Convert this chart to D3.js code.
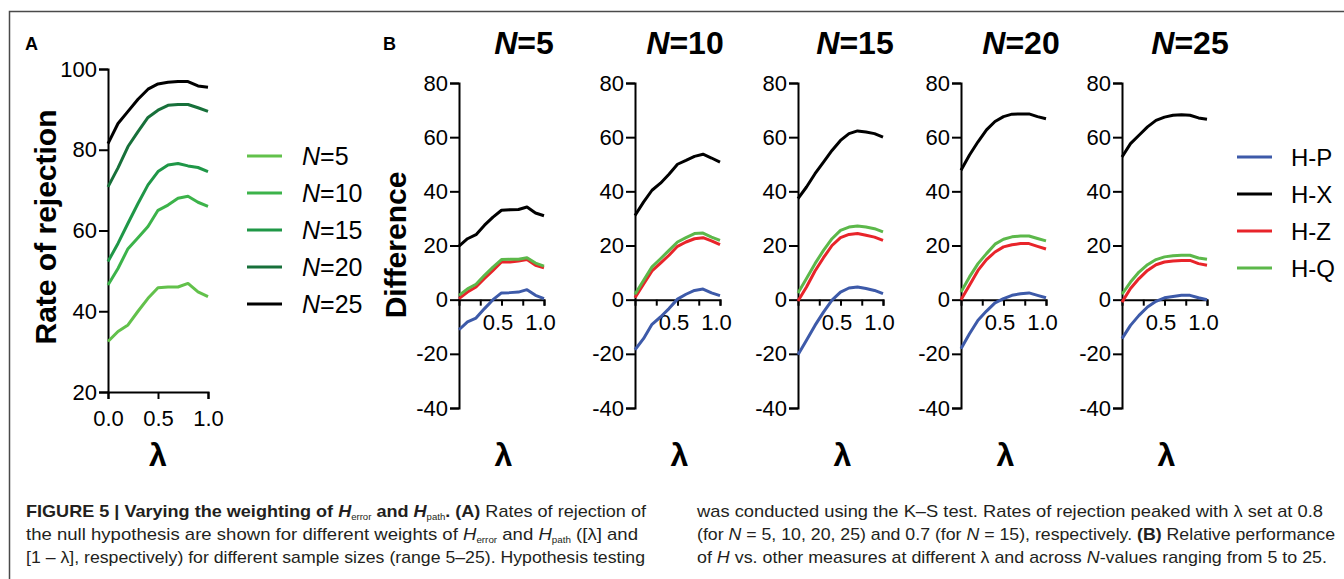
<!DOCTYPE html>
<html>
<head>
<meta charset="utf-8">
<script src="https://cdn.jsdelivr.net/npm/d3@7"></script>
<style>
  body { margin: 0; background: #fff; }
  svg { display: block; font-family: "Liberation Sans", Arial, sans-serif; }
</style>
</head>
<body>
<svg id="fig" width="1344" height="579"></svg>
<script>
// lambda values shared by every curve
let lambdas = [0, 0.1, 0.2, 0.3, 0.4, 0.5, 0.6, 0.7, 0.8, 0.9, 1.0];

// panel A: rate of rejection per sample size
let sizeLabels = ["5", "10", "15", "20", "25"];
let rateN5  = [32.5, 35, 36.6, 40, 43.2, 45.8, 46, 46, 46.9, 44.8, 43.6];
let rateN10 = [46.5, 50.6, 55.5, 58.2, 61, 65, 66.3, 68, 68.5, 67, 66];
let rateN15 = [52.3, 56.8, 61.8, 66.7, 71.3, 74.6, 76.2, 76.6, 76, 75.6, 74.6];
let rateN20 = [70.8, 75.5, 80.8, 84.5, 88, 89.8, 91, 91.2, 91.2, 90.4, 89.5];
let rateN25 = [81.5, 86.5, 89.5, 92.5, 95, 96.3, 96.7, 96.9, 96.9, 95.8, 95.5];
let rateTicks = [20, 40, 60, 80, 100];

// panel B: differences per measure, one list per N
let measures = ["H-P", "H-X", "H-Z", "H-Q"];
let diffN5 = {
  "H-P": [-11.1, -8.2, -6.8, -3.3, 0, 2.5, 2.6, 2.8, 3.7, 1.6, 0.4],
  "H-X": [19.8, 22.5, 24, 27.5, 30.5, 33, 33.2, 33.3, 34.2, 32, 31],
  "H-Z": [0.4, 2.8, 4.7, 7.8, 10.8, 13.9, 13.9, 14.3, 14.8, 12.7, 11.8],
  "H-Q": [1.6, 4, 5.7, 9, 12, 14.8, 14.9, 14.9, 15.5, 13.5, 12.4]
};
let diffN10 = {
  "H-P": [-18.5, -14.4, -9.1, -6.4, -3.3, 0.2, 2, 3.4, 3.9, 2.5, 1.5],
  "H-X": [31.1, 36, 40.4, 43, 46.3, 50, 51.4, 52.9, 53.7, 52.3, 50.8],
  "H-Z": [0.7, 5.7, 10.6, 13.5, 16.4, 19.7, 21.3, 22.5, 22.9, 21.7, 20.3],
  "H-Q": [2, 7.1, 12.1, 15.1, 18.2, 21.3, 22.9, 24.4, 24.6, 23.1, 21.9]
};
let diffN15 = {
  "H-P": [-20.3, -15, -9.5, -4.6, -0.2, 2.8, 4.3, 4.7, 4.1, 3.4, 2.2],
  "H-X": [37.3, 41.6, 46.5, 50.8, 55.1, 58.8, 61.3, 62.3, 61.9, 61.3, 60],
  "H-Z": [-0.5, 4.7, 10.6, 15.5, 20, 22.9, 24.1, 24.4, 23.8, 23.1, 21.9],
  "H-Q": [2.5, 7.8, 13.3, 18.2, 22.5, 25.6, 26.8, 27.2, 26.8, 26.2, 25]
};
let diffN20 = {
  "H-P": [-18.1, -12.6, -7.6, -4.2, -1.2, 0.4, 1.6, 2.2, 2.5, 1.6, 0.7],
  "H-X": [47.8, 53.4, 58.3, 62.7, 65.8, 67.6, 68.5, 68.6, 68.6, 67.6, 66.8],
  "H-Z": [0, 5.3, 10.8, 14.8, 17.6, 19.5, 20.3, 20.7, 20.7, 19.7, 18.7],
  "H-Q": [2.8, 8.4, 13.3, 17, 20.5, 22.3, 23.2, 23.5, 23.5, 22.6, 21.7]
};
let diffN25 = {
  "H-P": [-14.4, -9.5, -5.8, -2.7, -0.6, 0.7, 1.2, 1.6, 1.6, 0.7, 0],
  "H-X": [52.7, 57.6, 60.7, 63.8, 66.2, 67.4, 68.1, 68.3, 68.1, 67.1, 66.6],
  "H-Z": [-0.9, 4.1, 7.8, 10.8, 12.9, 13.9, 14.3, 14.5, 14.5, 13.3, 12.7],
  "H-Q": [2, 6.5, 10.2, 12.9, 14.8, 15.8, 16.2, 16.4, 16.4, 15.4, 14.9]
};
let diffTicks = [-40, -20, 0, 20, 40, 60, 80];

let rates = [rateN5, rateN10, rateN15, rateN20, rateN25];
let diffs = [diffN5, diffN10, diffN15, diffN20, diffN25];

let greens = ["#62c14b", "#3cb34a", "#1f9747", "#17703a", "#000000"];
let measureColors = {"H-P": "#3d5aa9", "H-X": "#000000", "H-Z": "#e8242a", "H-Q": "#5cb84a"};

let svg = d3.select("#fig");

// frame
svg.append("path")
  .attr("d", "M9.5,579 V11.5 H1344")
  .attr("fill", "none")
  .attr("stroke", "#4a4a4a")
  .attr("stroke-width", 1.5);

let styleAxis = function (g, size) {
  g.select(".domain").attr("stroke", "#000").attr("stroke-width", 2);
  g.selectAll(".tick line").attr("stroke", "#000").attr("stroke-width", 2);
  g.selectAll(".tick text").attr("fill", "#000").style("font-size", size + "px");
};

// ---------- panel A ----------
svg.append("text").text("A")
  .attr("x", 25).attr("y", 50)
  .style("font-weight", "bold").style("font-size", "18px");

let xA = d3.scaleLinear().domain([0, 1]).range([108, 208]);
let yA = d3.scaleLinear().domain([20, 100]).range([392, 69]);

let axA = svg.append("g").attr("transform", "translate(0,392)")
  .call(d3.axisBottom(xA).tickValues([0, 0.5, 1]).tickFormat(d3.format(".1f"))
    .tickSizeOuter(0).tickSize(7).tickPadding(11));
styleAxis(axA, 22);

let ayA = svg.append("g").attr("transform", "translate(108,0)")
  .call(d3.axisLeft(yA).tickValues(rateTicks).tickSizeOuter(0).tickSize(9).tickPadding(2));
styleAxis(ayA, 22);

let lineA = d3.line()
  .x(function (d, i) { return xA(lambdas[i]); })
  .y(function (d) { return yA(d); });

svg.append("g").selectAll("path")
  .data(rates)
  .enter()
  .append("path")
  .attr("d", lineA)
  .attr("fill", "none")
  .attr("stroke", function (d, i) { return greens[i]; })
  .attr("stroke-width", 3)
  .attr("stroke-linejoin", "round");

svg.append("text")
  .attr("transform", "translate(45,227) rotate(-90)")
  .attr("text-anchor", "middle")
  .attr("dominant-baseline", "central")
  .style("font-weight", "bold").style("font-size", "30px")
  .text("Rate of rejection");

svg.append("text")
  .attr("x", xA(0.5)).attr("y", 466)
  .attr("text-anchor", "middle")
  .style("font-weight", "bold").style("font-size", "32px")
  .text("λ");

// legend A
let legA = svg.append("g").selectAll("g")
  .data(sizeLabels)
  .enter()
  .append("g")
  .attr("transform", function (d, i) { return "translate(247," + (156 + i * 37) + ")"; });
legA.append("line")
  .attr("x1", 0).attr("x2", 35)
  .attr("stroke", function (d, i) { return greens[i]; })
  .attr("stroke-width", 3);
let legAText = legA.append("text")
  .attr("x", 55).attr("y", 9)
  .style("font-size", "25px");
legAText.append("tspan").style("font-style", "italic").text("N");
legAText.append("tspan").text(function (d) { return "=" + d; });

// ---------- panel B ----------
svg.append("text").text("B")
  .attr("x", 383).attr("y", 50)
  .style("font-weight", "bold").style("font-size", "18px");

let originsB = [459, 635, 798, 961, 1122];
let titleXB = [524, 685, 855, 1021, 1190];
let widthB = 85;
let yB = d3.scaleLinear().domain([-40, 80]).range([408, 83]);

diffs.forEach(function (panel, p) {
  let x0 = originsB[p];
  let xB = d3.scaleLinear().domain([0, 1]).range([x0, x0 + widthB]);

  let ay = svg.append("g").attr("transform", "translate(" + x0 + ",0)")
    .call(d3.axisLeft(yB).tickValues(diffTicks).tickSizeOuter(0).tickSize(9).tickPadding(2)
      .tickFormat(function (d) { return String(d).replace("−", "-"); }));
  styleAxis(ay, 22);

  let ax = svg.append("g").attr("transform", "translate(0," + yB(0) + ")")
    .call(d3.axisBottom(xB).tickValues([0.25, 0.5, 0.75, 1])
      .tickFormat(function (d) { return (d === 0.5 || d === 1) ? d3.format(".1f")(d) : ""; })
      .tickSizeOuter(0).tickSize(6).tickPadding(9));
  styleAxis(ax, 22);
  ax.selectAll(".tick text").attr("dx", -4);

  let lineB = d3.line()
    .x(function (d, i) { return xB(lambdas[i]); })
    .y(function (d) { return yB(d); });

  svg.append("g").selectAll("path")
    .data(measures)
    .enter()
    .append("path")
    .attr("d", function (m) { return lineB(panel[m]); })
    .attr("fill", "none")
    .attr("stroke", function (m) { return measureColors[m]; })
    .attr("stroke-width", 3)
    .attr("stroke-linejoin", "round");

  let t = svg.append("text")
    .attr("x", titleXB[p]).attr("y", 54)
    .attr("text-anchor", "middle")
    .style("font-weight", "bold").style("font-size", "32px");
  t.append("tspan").style("font-style", "italic").text("N");
  t.append("tspan").text("=" + sizeLabels[p]);

  svg.append("text")
    .attr("x", x0 + widthB / 2 + 2).attr("y", 466)
    .attr("text-anchor", "middle")
    .style("font-weight", "bold").style("font-size", "32px")
    .text("λ");
});

svg.append("text")
  .attr("transform", "translate(395,245) rotate(-90)")
  .attr("text-anchor", "middle")
  .attr("dominant-baseline", "central")
  .style("font-weight", "bold").style("font-size", "30px")
  .text("Difference");

// legend B
let legB = svg.append("g").selectAll("g")
  .data(measures)
  .enter()
  .append("g")
  .attr("transform", function (d, i) { return "translate(1237," + (157 + i * 37) + ")"; });
legB.append("line")
  .attr("x1", 0).attr("x2", 35)
  .attr("stroke", function (d) { return measureColors[d]; })
  .attr("stroke-width", 3);
legB.append("text")
  .attr("x", 54).attr("y", 9)
  .style("font-size", "24px")
  .text(function (d) { return d; });

// ---------- caption ----------
let captionLines = [
  {x: 26, y: 517, w: 620, parts: [
    ["FIGURE 5 | Varying the weighting of ", "b"], ["H", "bi"], ["error", "sub"], [" and ", "b"],
    ["H", "bi"], ["path", "sub"], [". (A)", "b"], [" Rates of rejection of", ""]]},
  {x: 26, y: 540, w: 612, parts: [
    ["the null hypothesis are shown for different weights of ", ""], ["H", "i"], ["error", "sub"],
    [" and ", ""], ["H", "i"], ["path", "sub"], [" ([λ] and", ""]]},
  {x: 26, y: 563, w: 619, parts: [
    ["[1 – λ], respectively) for different sample sizes (range 5–25). Hypothesis testing", ""]]},
  {x: 697, y: 517, w: 626, parts: [
    ["was conducted using the K–S test. Rates of rejection peaked with λ set at 0.8", ""]]},
  {x: 697, y: 540, w: 638, parts: [
    ["(for ", ""], ["N", "i"], [" = 5, 10, 20, 25) and 0.7 (for ", ""], ["N", "i"],
    [" = 15), respectively. ", ""], ["(B)", "b"], [" Relative performance", ""]]},
  {x: 697, y: 563, w: 630, parts: [
    ["of ", ""], ["H", "i"], [" vs. other measures at different λ and across ", ""], ["N", "i"],
    ["-values ranging from 5 to 25.", ""]]}
];

captionLines.forEach(function (ln) {
  let t = svg.append("text")
    .attr("x", ln.x).attr("y", ln.y)
    .attr("textLength", ln.w)
    .attr("lengthAdjust", "spacingAndGlyphs")
    .attr("fill", "#231f20")
    .style("font-size", "17px");
  let shifted = false;
  ln.parts.forEach(function (p) {
    let s = t.append("tspan").text(p[0]);
    if (p[1].indexOf("b") >= 0) s.style("font-weight", "bold");
    if (p[1].indexOf("i") >= 0) s.style("font-style", "italic");
    if (p[1] === "sub") {
      s.style("font-size", "9px").style("font-weight", "normal").attr("dy", 3);
      shifted = true;
    } else if (shifted) {
      s.attr("dy", -3);
      shifted = false;
    }
  });
});
</script>
</body>
</html>
